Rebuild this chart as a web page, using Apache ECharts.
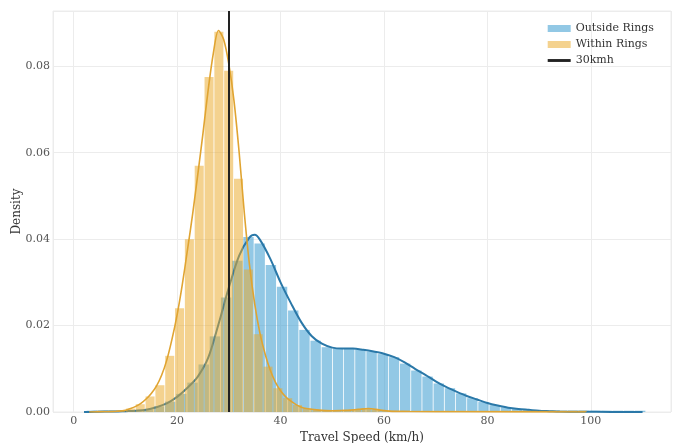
<!DOCTYPE html>
<html>
<head>
<meta charset="utf-8">
<script src="https://cdn.jsdelivr.net/npm/echarts@6/dist/echarts.min.js"></script>
<style>
  html, body { margin: 0; padding: 0; background: #fff; }
  #chart { width: 675px; height: 443px; }
</style>
</head>
<body>
<div id="chart"></div>
<script>
// histogram bins: start, width, densities
const outsideStart = 2.5;
const outsideWidth = 2.164;
const outsideHeights = [
  0.0003, 0.0003, 0.0003, 0.0003, 0.0004, 0.0006, 0.0013, 0.0024, 0.0042, 0.0068,
  0.011, 0.0175, 0.0265, 0.035, 0.0405, 0.039, 0.034, 0.029, 0.0235, 0.019,
  0.0165, 0.015, 0.0147, 0.0146, 0.0145, 0.014, 0.0134, 0.0127, 0.0112, 0.0096,
  0.0082, 0.0066, 0.0055, 0.0043, 0.0032, 0.0023, 0.0016, 0.0011, 0.0007, 0.0005,
  0.0004, 0.0003, 0.0003, 0.0003, 0.0003, 0.0003, 0.0003, 0.0003, 0.0003, 0.0003
];

const withinStart = 4.4;
const withinWidth = 1.9;
const withinHeights = [
  0.0003, 0.0003, 0.0004, 0.0008, 0.0018, 0.0036, 0.0062, 0.013, 0.024, 0.04,
  0.057, 0.0775, 0.088, 0.079, 0.054, 0.033, 0.018, 0.0105, 0.0055, 0.0032,
  0.0016, 0.0008, 0.0005, 0.0004, 0.0004, 0.0005, 0.0007, 0.0009, 0.0005, 0.0003,
  0.0003, 0.0003, 0.0003, 0.0003, 0.0003, 0.0003, 0.0003, 0.0003, 0.0003, 0.0003,
  0.0003, 0.0003, 0.0003, 0.0003, 0.0003, 0.0003, 0.0003, 0.0003, 0.0003, 0.0003
];

// KDE curves
const outsideKdeX = [2, 4, 6, 8, 10, 12, 14, 16, 18, 20, 22, 24, 26, 28, 30, 32, 34, 35, 36, 38, 40, 42, 44, 46, 48, 50, 52, 54, 56, 58, 60, 62, 64, 66, 68, 70, 72, 74, 76, 78, 80, 82, 84, 86, 88, 90, 92, 94, 98, 104, 110];
const outsideKdeY = [0, 0.00005, 0.0001, 0.0001, 0.0002, 0.0003, 0.0005, 0.0011, 0.002, 0.0035, 0.0056, 0.0082, 0.0125, 0.0203, 0.0288, 0.0362, 0.0404, 0.041, 0.0399, 0.0355, 0.03, 0.0252, 0.0208, 0.0176, 0.0158, 0.0149, 0.0147, 0.0147, 0.0144, 0.014, 0.0135, 0.0127, 0.0115, 0.01, 0.0086, 0.0071, 0.0058, 0.0047, 0.0037, 0.0029, 0.0021, 0.0015, 0.001, 0.0007, 0.0005, 0.0003, 0.0002, 0.0001, 0.00005, 0.00002, 0];

const withinKdeX = [3, 6, 8, 10, 11, 12, 13, 14, 15, 16, 17, 18, 19, 20, 21, 22, 23, 24, 25, 26, 27, 28, 29, 30, 31, 32, 33, 34, 35, 36, 37, 38, 39, 40, 41, 42, 43, 44, 45, 47, 50, 53, 55, 57, 59, 61, 65, 75, 99];
const withinKdeY = [0, 0.00005, 0.0001, 0.0004, 0.0008, 0.0013, 0.002, 0.003, 0.0043, 0.006, 0.0085, 0.012, 0.0168, 0.0225, 0.0295, 0.0375, 0.0458, 0.055, 0.0645, 0.0745, 0.083, 0.0883, 0.0862, 0.0805, 0.072, 0.06, 0.046, 0.034, 0.025, 0.0183, 0.0135, 0.0097, 0.0069, 0.0049, 0.0035, 0.0025, 0.0017, 0.0011, 0.0008, 0.0005, 0.0003, 0.0004, 0.0006, 0.0008, 0.0005, 0.0002, 0.0001, 0.00005, 0];

const refSpeed = 30;

const blueBar = "rgba(74,163,211,0.6)";
const blueLine = "#2a78a8";
const orangeBar = "rgba(233,169,40,0.52)";
const orangeLine = "#e0a431";
const serif = "DejaVu Serif";

function bins(start, width, heights) {
  return heights.map((h, i) => [start + i * width, start + (i + 1) * width, h]);
}

function pairs(xs, ys) {
  return xs.map((x, i) => [x, ys[i]]);
}

function histItem(color) {
  return function (params, api) {
    const a = api.coord([api.value(0), api.value(2)]);
    const b = api.coord([api.value(1), 0]);
    return {
      type: "rect",
      shape: { x: a[0], y: a[1], width: Math.max(b[0] - a[0] - 0.8, 0.5), height: b[1] - a[1] },
      style: { fill: color }
    };
  };
}

const chart = echarts.init(document.getElementById("chart"), null, { renderer: "canvas" });

chart.setOption({
  animation: false,
  backgroundColor: "#ffffff",
  grid: {
    left: 53,
    right: 4,
    top: 11,
    bottom: 31,
    outerBoundsMode: "none",
    containLabel: false,
    show: true,
    borderColor: "#ececec",
    borderWidth: 1
  },
  legend: {
    right: 16,
    top: 18,
    orient: "vertical",
    itemWidth: 23,
    itemHeight: 7,
    itemGap: 5,
    textStyle: { fontFamily: serif, fontSize: 11, color: "#333" },
    data: [
      { name: "Outside Rings", icon: "rect" },
      { name: "Within Rings", icon: "rect" },
      { name: "30kmh", icon: "path://M0,0H24V3H0Z" }
    ]
  },
  xAxis: {
    type: "value",
    min: -4,
    max: 115.5,
    name: "Travel Speed (km/h)",
    nameLocation: "middle",
    nameGap: 18,
    nameTextStyle: { fontFamily: serif, fontSize: 12, color: "#333" },
    axisLine: { show: false },
    axisTick: { show: false },
    axisLabel: {
      fontFamily: serif,
      fontSize: 11,
      color: "#555",
      margin: 4,
      showMinLabel: false,
      showMaxLabel: false
    },
    splitLine: { lineStyle: { color: "#ececec" } }
  },
  yAxis: {
    type: "value",
    min: 0,
    max: 0.0928,
    name: "Density",
    nameLocation: "middle",
    nameGap: 30,
    nameMoveOverlap: false,
    nameTextStyle: { fontFamily: serif, fontSize: 12, color: "#333" },
    axisLine: { show: false },
    axisTick: { show: false },
    axisLabel: {
      fontFamily: serif,
      fontSize: 11,
      color: "#555",
      margin: 3,
      showMaxLabel: false,
      formatter: (v) => v.toFixed(2)
    },
    splitLine: { lineStyle: { color: "#ececec" } }
  },
  series: [
    {
      name: "Outside Rings",
      type: "custom",
      renderItem: histItem(blueBar),
      itemStyle: { color: blueBar },
      encode: { x: [0, 1], y: 2 },
      data: bins(outsideStart, outsideWidth, outsideHeights),
      z: 1
    },
    {
      name: "Outside KDE",
      type: "line",
      smooth: 0.3,
      showSymbol: false,
      lineStyle: { color: blueLine, width: 2 },
      itemStyle: { color: blueLine },
      data: pairs(outsideKdeX, outsideKdeY),
      z: 2
    },
    {
      name: "Within Rings",
      type: "custom",
      renderItem: histItem(orangeBar),
      itemStyle: { color: orangeBar },
      encode: { x: [0, 1], y: 2 },
      data: bins(withinStart, withinWidth, withinHeights),
      z: 3
    },
    {
      name: "Within KDE",
      type: "line",
      smooth: 0.3,
      showSymbol: false,
      lineStyle: { color: orangeLine, width: 1.6 },
      itemStyle: { color: orangeLine },
      data: pairs(withinKdeX, withinKdeY),
      z: 4
    },
    {
      name: "30kmh",
      type: "line",
      data: [],
      itemStyle: { color: "#222" },
      lineStyle: { color: "#222" },
      markLine: {
        silent: true,
        symbol: ["none", "none"],
        label: { show: false },
        lineStyle: { color: "#222", width: 2, type: "solid" },
        data: [{ xAxis: refSpeed }]
      },
      z: 5
    }
  ]
});
</script>
</body>
</html>
